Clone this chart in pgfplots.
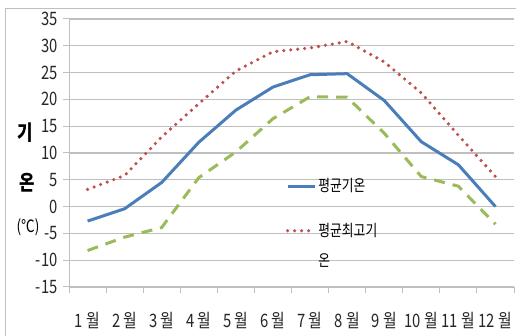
\documentclass[border=0pt]{standalone}
\usepackage{fontspec}
\setmainfont{Noto Sans CJK KR}[FakeStretch=0.8]
\usepackage{pgfplots}
\pgfplotsset{compat=1.18}
\definecolor{cblue}{HTML}{4A7EBB}
\definecolor{cred}{HTML}{C0504D}
\definecolor{cgreen}{HTML}{9BBB59}
\definecolor{cgrid}{HTML}{BFBFBF}
\begin{document}
\begin{tikzpicture}[x=1pt,y=1pt]
\path[use as bounding box] (0,0) rectangle (516,336);
\draw[cgrid, line width=0.8pt] (5,-5) -- (5,328) -- (530,328);
\node[font=\bfseries\fontsize{21}{24}\selectfont] at (25,203) {기};
\node[font=\bfseries\fontsize{21}{24}\selectfont] at (27,153) {온};
\node[font=\fontsize{17}{20}\selectfont] at (28,109) {(℃)};
\begin{axis}[
  at={(69pt,49pt)}, anchor=south west,
  scale only axis, width=445pt, height=268pt,
  xmin=0.5, xmax=12.5, ymin=-15, ymax=35,
  xtick={1,...,12},
  xticklabels={1 월,2 월,3 월,4 월,5 월,6 월,7 월,8 월,9 월,10 월,11 월,12 월},
  major x tick style={draw=none},
  minor xtick={0.5,1.5,...,12.5},
  minor tick length=6pt,
  ytick={-15,-10,...,35},
  major tick length=6pt,
  tick align=outside,
  tick style={cgrid, line width=1pt},
  ymajorgrids,
  major grid style={cgrid, line width=1.2pt},
  axis x line*=bottom, axis y line*=left,
  axis line style={-, cgrid, line width=1pt},
  /pgf/number format/assume math mode=true,
  tick label style={font=\fontsize{18.5}{20}\selectfont, text=black!85},
  yticklabel style={xshift=-2pt},
  xticklabel style={yshift=-16pt},
  legend style={at={(0.48,0.42)}, anchor=north west, draw=none, fill=none,
    font=\fontsize{16}{18}\selectfont, cells={anchor=west},
    row sep=26pt},
  legend image code/.code={\draw[#1] (0pt,0pt) -- (27pt,0pt);},
]
\addplot[cblue, line width=3pt, line join=round] coordinates {
(1,-2.7) (2,-0.4) (3,4.5) (4,12.0) (5,18.0) (6,22.3) (7,24.6) (8,24.8) (9,19.8) (10,12.1) (11,7.8) (12,0.0)};
\addlegendentry{평균기온}
\addplot[cred, line width=3.6pt, line cap=round, dash pattern=on 0pt off 7pt] coordinates {
(1,3.2) (2,5.8) (3,13.0) (4,19.2) (5,25.3) (6,28.9) (7,29.6) (8,30.8) (9,27.0) (10,21.2) (11,13.3) (12,5.6)};
\addlegendentry{\raisebox{0pt}[\height][0pt]{\begin{tabular}[t]{@{}l@{}}평균최고기\\[12pt]온\end{tabular}}}
\addplot[cgreen, line width=3pt, dash pattern=on 11pt off 8pt, forget plot] coordinates {
(1,-8.2) (2,-5.7) (3,-3.9) (4,5.4) (5,10.2) (6,16.4) (7,20.5) (8,20.4) (9,13.7) (10,5.6) (11,3.8) (12,-3.3)};
\end{axis}
\end{tikzpicture}
\end{document}
